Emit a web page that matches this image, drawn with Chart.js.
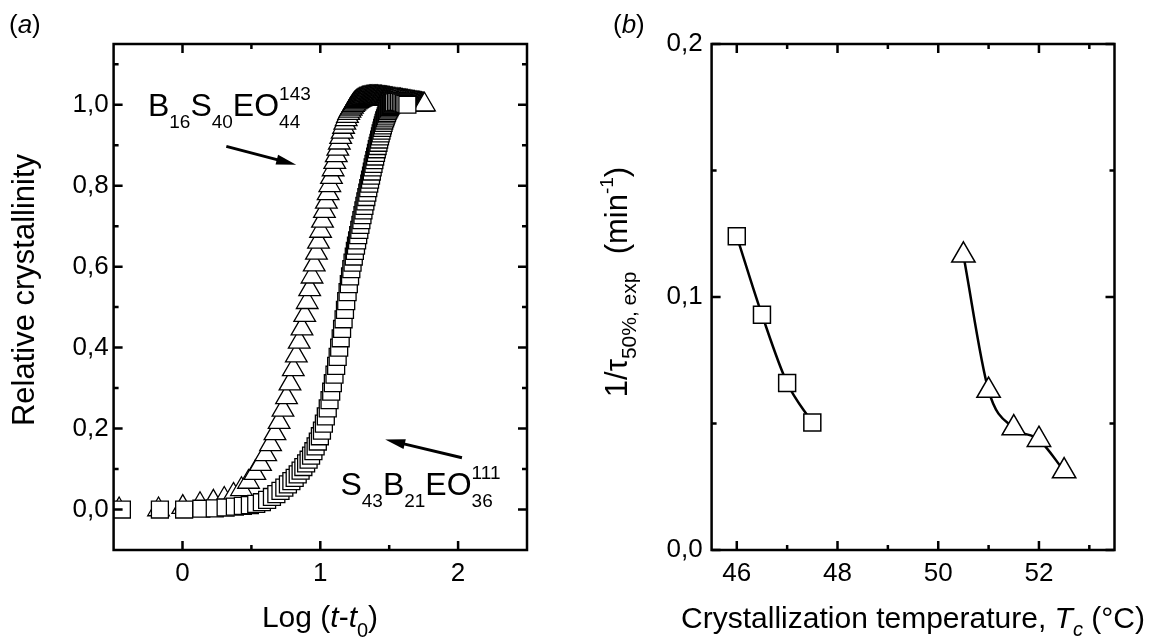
<!DOCTYPE html>
<html>
<head>
<meta charset="utf-8">
<script src="https://cdn.jsdelivr.net/npm/chart.js@4.4.1/dist/chart.umd.min.js"></script>
<style>
  html, body { margin: 0; padding: 0; background: #fff; }
  #wrap { position: relative; width: 1157px; height: 642px; overflow: hidden; }
  #wrap canvas { position: absolute; top: 0; }
</style>
</head>
<body>
<div id="wrap">
  <canvas id="chartA" width="560" height="642" style="left:0;width:560px;height:642px"></canvas>
  <canvas id="chartB" width="597" height="642" style="left:560px;width:597px;height:642px"></canvas>
</div>
<script>
// (a) relative crystallinity vs Log(t - t0)
const sqLogT = [-0.44, -0.164, 0.012, 0.137, 0.234, 0.313, 0.380, 0.438, 0.489, 0.535,
  0.576, 0.614, 0.649, 0.681, 0.711, 0.739, 0.765, 0.790, 0.814, 0.836,
  0.857, 0.877, 0.897, 0.915, 0.933, 0.950, 0.966, 0.982, 0.997, 1.012,
  1.026, 1.040, 1.054, 1.067, 1.079, 1.091, 1.103, 1.115, 1.126, 1.137,
  1.148, 1.158, 1.169, 1.179, 1.188, 1.198, 1.207, 1.216, 1.225, 1.234,
  1.243, 1.251, 1.259, 1.267, 1.275, 1.283, 1.291, 1.298, 1.306, 1.313,
  1.320, 1.327, 1.334, 1.341, 1.348, 1.355, 1.361, 1.368, 1.374, 1.380,
  1.386, 1.392, 1.398, 1.404, 1.410, 1.416, 1.422, 1.427, 1.433, 1.438,
  1.444, 1.449, 1.454, 1.459, 1.464, 1.470, 1.475, 1.480, 1.484, 1.489,
  1.494, 1.499, 1.504, 1.508, 1.513, 1.517, 1.522, 1.526, 1.531, 1.535,
  1.548, 1.560, 1.572, 1.584, 1.596, 1.607, 1.618, 1.632];
const sqCryst = [0.000, 0.000, 0.000, 0.002, 0.003, 0.005, 0.007, 0.009, 0.011, 0.014,
  0.018, 0.024, 0.031, 0.038, 0.046, 0.054, 0.062, 0.070, 0.078, 0.087,
  0.096, 0.105, 0.114, 0.123, 0.133, 0.144, 0.156, 0.168, 0.181, 0.195,
  0.212, 0.230, 0.250, 0.270, 0.291, 0.312, 0.333, 0.355, 0.377, 0.400,
  0.423, 0.446, 0.470, 0.493, 0.515, 0.537, 0.557, 0.576, 0.594, 0.610,
  0.625, 0.639, 0.652, 0.665, 0.678, 0.691, 0.703, 0.715, 0.727, 0.739,
  0.750, 0.761, 0.772, 0.783, 0.794, 0.805, 0.815, 0.825, 0.835, 0.845,
  0.854, 0.863, 0.872, 0.881, 0.890, 0.898, 0.906, 0.914, 0.922, 0.929,
  0.936, 0.943, 0.949, 0.955, 0.961, 0.966, 0.971, 0.976, 0.980, 0.984,
  0.988, 0.991, 0.994, 0.997, 0.999, 1.001, 1.003, 1.004, 1.005, 1.006,
  1.007, 1.007, 1.007, 1.006, 1.005, 1.003, 1.002, 1.000];

const triLogT = [-0.46, -0.174, 0.002, 0.127, 0.224, 0.303, 0.370, 0.428, 0.479, 0.525,
  0.566, 0.604, 0.639, 0.671, 0.701, 0.729, 0.755, 0.780, 0.804, 0.826,
  0.847, 0.867, 0.887, 0.905, 0.923, 0.940, 0.956, 0.972, 0.987, 1.002,
  1.016, 1.030, 1.044, 1.057, 1.069, 1.081, 1.093, 1.105, 1.116, 1.127,
  1.138, 1.148, 1.159, 1.169, 1.178, 1.188, 1.197, 1.206, 1.215, 1.224,
  1.233, 1.241, 1.249, 1.257, 1.265, 1.273, 1.281, 1.288, 1.296, 1.303,
  1.310, 1.317, 1.324, 1.331, 1.338, 1.345, 1.351, 1.358, 1.364, 1.370,
  1.376, 1.382, 1.388, 1.394, 1.400, 1.406, 1.412, 1.417, 1.423, 1.428,
  1.434, 1.439, 1.444, 1.449, 1.454, 1.460, 1.465, 1.470, 1.474, 1.479,
  1.484, 1.489, 1.494, 1.498, 1.503, 1.507, 1.512, 1.516, 1.521, 1.525,
  1.534, 1.542, 1.550, 1.558, 1.566, 1.574, 1.582, 1.590, 1.597, 1.604,
  1.611, 1.618, 1.625, 1.632, 1.639, 1.646, 1.652, 1.659, 1.665, 1.671,
  1.677, 1.683, 1.689, 1.695, 1.701, 1.707, 1.713, 1.718, 1.724, 1.729,
  1.735, 1.740, 1.745, 1.750, 1.756];
const triCryst = [0.000, 0.000, 0.006, 0.013, 0.019, 0.026, 0.036, 0.050, 0.068, 0.090,
  0.112, 0.136, 0.161, 0.188, 0.216, 0.246, 0.277, 0.311, 0.346, 0.380,
  0.414, 0.447, 0.480, 0.512, 0.544, 0.575, 0.605, 0.634, 0.661, 0.688,
  0.713, 0.737, 0.760, 0.781, 0.801, 0.821, 0.840, 0.858, 0.875, 0.891,
  0.906, 0.920, 0.933, 0.945, 0.955, 0.964, 0.972, 0.979, 0.985, 0.990,
  0.995, 0.999, 1.002, 1.005, 1.007, 1.009, 1.011, 1.012, 1.013, 1.014,
  1.015, 1.015, 1.016, 1.016, 1.017, 1.017, 1.017, 1.018, 1.018, 1.018,
  1.018, 1.018, 1.018, 1.018, 1.018, 1.018, 1.018, 1.018, 1.017, 1.017,
  1.017, 1.017, 1.017, 1.016, 1.016, 1.016, 1.016, 1.015, 1.015, 1.015,
  1.015, 1.014, 1.014, 1.014, 1.014, 1.013, 1.013, 1.013, 1.013, 1.012,
  1.012, 1.012, 1.011, 1.011, 1.010, 1.010, 1.010, 1.009, 1.009, 1.008,
  1.008, 1.008, 1.007, 1.007, 1.006, 1.006, 1.006, 1.005, 1.005, 1.004,
  1.004, 1.004, 1.003, 1.003, 1.003, 1.002, 1.002, 1.002, 1.001, 1.001,
  1.001, 1.000, 1.000, 1.000, 1.000];

// (b) 1/tau50% vs crystallization temperature
const sqTc = [46, 46.5, 47, 47.5];
const sqRate = [0.124, 0.093, 0.066, 0.0504];
const triTc = [50.5, 51, 51.5, 52, 52.5];
const triRate = [0.1165, 0.063, 0.0482, 0.0436, 0.0312];

// tick positions
const ticksAx = [0, 1, 2], minorAx = [0.5, 1.5];
const ticksAy = [0, 0.2, 0.4, 0.6, 0.8, 1.0], minorAy = [0.1, 0.3, 0.5, 0.7, 0.9, 1.1];
const ticksBx = [46, 48, 50, 52], minorBx = [47, 49, 51, 53];
const ticksBy = [0, 0.1, 0.2], minorBy = [0.05, 0.15];

const FONT = '"Liberation Sans", Arial, Helvetica, sans-serif';
Chart.defaults.font.family = FONT;
Chart.defaults.color = '#000';

const P = (t, size, o) => Object.assign({ t, size }, o || {});
const comma = v => v.toFixed(1).replace('.', ',');
const pts = (xs, ys) => xs.map((x, i) => ({ x, y: ys[i] }));

function richWidth(ctx, parts) {
  let w = 0, sw = 0;
  for (const p of parts) {
    ctx.font = (p.it ? 'italic ' : '') + p.size + 'px ' + FONT;
    const m = ctx.measureText(p.t).width;
    if (p.stack) sw = m; else { w += Math.max(m, sw); sw = 0; }
  }
  return w;
}

function drawRich(ctx, parts, x, y, rotate, center) {
  ctx.save();
  ctx.translate(x, y);
  if (rotate) ctx.rotate(rotate);
  ctx.fillStyle = '#000';
  ctx.textAlign = 'left';
  ctx.textBaseline = 'alphabetic';
  let cx = center ? -richWidth(ctx, parts) / 2 : 0, sw = 0;
  for (const p of parts) {
    ctx.font = (p.it ? 'italic ' : '') + p.size + 'px ' + FONT;
    ctx.fillText(p.t, cx, p.dy || 0);
    const m = ctx.measureText(p.t).width;
    if (p.stack) sw = m; else { cx += Math.max(m, sw); sw = 0; }
  }
  ctx.restore();
}

function drawArrow(ctx, x0, y0, x1, y1) {
  const a = Math.atan2(y1 - y0, x1 - x0), L = 20, W = 5;
  const bx = x1 - L * Math.cos(a), by = y1 - L * Math.sin(a);
  ctx.save();
  ctx.strokeStyle = '#000';
  ctx.fillStyle = '#000';
  ctx.lineWidth = 3;
  ctx.beginPath();
  ctx.moveTo(x0, y0);
  ctx.lineTo(bx + 3 * Math.cos(a), by + 3 * Math.sin(a));
  ctx.stroke();
  ctx.beginPath();
  ctx.moveTo(x1, y1);
  ctx.lineTo(bx - W * Math.sin(a), by + W * Math.cos(a));
  ctx.lineTo(bx + W * Math.sin(a), by - W * Math.cos(a));
  ctx.closePath();
  ctx.fill();
  ctx.restore();
}

// frame with inward ticks on all four sides
function frameTicks(major, minor) {
  return {
    id: 'frameTicks',
    afterDatasetsDraw(chart) {
      const { ctx, chartArea: c, scales: { x, y } } = chart;
      ctx.save();
      ctx.strokeStyle = '#000';
      ctx.lineWidth = 2.5;
      ctx.strokeRect(c.left, c.top, c.right - c.left, c.bottom - c.top);
      ctx.beginPath();
      const tx = (v, len) => {
        const px = x.getPixelForValue(v);
        ctx.moveTo(px, c.bottom); ctx.lineTo(px, c.bottom - len);
        ctx.moveTo(px, c.top); ctx.lineTo(px, c.top + len);
      };
      const ty = (v, len) => {
        const py = y.getPixelForValue(v);
        ctx.moveTo(c.left, py); ctx.lineTo(c.left + len, py);
        ctx.moveTo(c.right, py); ctx.lineTo(c.right - len, py);
      };
      major.x.forEach(v => tx(v, 9));
      minor.x.forEach(v => tx(v, 5));
      major.y.forEach(v => ty(v, 9));
      minor.y.forEach(v => ty(v, 5));
      ctx.stroke();
      ctx.restore();
    }
  };
}

function texts(items) {
  return {
    id: 'texts',
    afterDraw(chart) {
      const ctx = chart.ctx, { x, y } = chart.scales;
      for (const it of items) {
        if (it.arrow) {
          drawArrow(ctx, x.getPixelForValue(it.arrow[0]), y.getPixelForValue(it.arrow[1]),
            x.getPixelForValue(it.arrow[2]), y.getPixelForValue(it.arrow[3]));
        } else if (it.data) {
          drawRich(ctx, it.parts, x.getPixelForValue(it.data[0]), y.getPixelForValue(it.data[1]));
        } else {
          drawRich(ctx, it.parts, it.px, it.py, it.rotate, it.center);
        }
      }
    }
  };
}

function markerSet(data, style, r, bw, line) {
  return {
    data,
    pointStyle: style,
    pointRadius: r,
    pointHoverRadius: r,
    pointBorderWidth: bw,
    pointBorderColor: '#000',
    pointBackgroundColor: '#fff',
    borderColor: '#000',
    borderWidth: 2.5,
    showLine: !!line,
    cubicInterpolationMode: 'monotone'
  };
}

function axis(min, max, vals, fmt, fit, isX, pad) {
  return {
    type: 'linear', min, max,
    grid: { display: false, drawTicks: false },
    border: { display: false },
    afterBuildTicks: s => { s.ticks = vals.map(v => ({ value: v })); },
    afterFit: s => { if (isX) s.height = fit; else s.width = fit; },
    ticks: { font: { size: 26 }, padding: pad, callback: fmt, autoSkip: false, maxRotation: 0 }
  };
}

const SUB = 12, SUP = -16;

new Chart(document.getElementById('chartA'), {
  type: 'scatter',
  data: {
    datasets: [
      markerSet(pts(sqLogT, sqCryst), 'rect', 12, 1.3, false),
      markerSet(pts(triLogT, triCryst), 'triangle', 12.5, 1.3, false)
    ]
  },
  options: {
    responsive: false,
    animation: false,
    events: [],
    layout: { padding: { left: 0, top: 44, right: 33, bottom: 0 } },
    plugins: { legend: { display: false }, tooltip: { enabled: false } },
    scales: {
      x: axis(-0.5, 2.5, ticksAx, v => String(v), 92, true, 8),
      y: axis(-0.1, 1.15, ticksAy, comma, 113.6, false, 5)
    }
  },
  plugins: [
    frameTicks({ x: ticksAx, y: ticksAy }, { x: minorAx, y: minorAy }),
    texts([
      { parts: [P('(', 26), P('a', 26, { it: true }), P(')', 26)], px: 9, py: 33 },
      { parts: [P('Log (', 30), P('t', 30, { it: true }), P('-', 30), P('t', 30, { it: true }),
                P('0', 20, { dy: 10 }), P(')', 30)], px: 320, py: 627, center: true },
      { parts: [P('Relative crystallinity', 31)], px: 34, py: 290, rotate: -Math.PI / 2, center: true },
      { parts: [P('B', 32), P('16', 19, { dy: SUB }), P('S', 32), P('40', 19, { dy: SUB }), P('EO', 32),
                P('143', 19, { dy: SUP, stack: true }), P('44', 19, { dy: SUB })], data: [-0.251, 0.971] },
      { parts: [P('S', 32), P('43', 19, { dy: SUB }), P('B', 32), P('21', 19, { dy: SUB }), P('EO', 32),
                P('111', 19, { dy: SUP, stack: true }), P('36', 19, { dy: SUB })], data: [1.146, 0.037] },
      { arrow: [0.318, 0.897, 0.825, 0.852] },
      { arrow: [2.028, 0.128, 1.471, 0.173] }
    ])
  ]
});

new Chart(document.getElementById('chartB'), {
  type: 'scatter',
  data: {
    datasets: [
      markerSet(pts(sqTc, sqRate), 'rect', 12, 1.5, true),
      markerSet(pts(triTc, triRate), 'triangle', 13.5, 1.5, true)
    ]
  },
  options: {
    responsive: false,
    animation: false,
    events: [],
    layout: { padding: { left: 0, top: 44, right: 42.5, bottom: 0 } },
    plugins: { legend: { display: false }, tooltip: { enabled: false } },
    scales: {
      x: axis(45.5, 53.5, ticksBx, v => String(v), 92, true, 8),
      y: axis(0, 0.2, ticksBy, comma, 151.6, false, 9)
    }
  },
  plugins: [
    frameTicks({ x: ticksBx, y: ticksBy }, { x: minorBx, y: minorBy }),
    texts([
      { parts: [P('(', 26), P('b', 26, { it: true }), P(')', 26)], px: 53, py: 33 },
      { parts: [P('Crystallization temperature, ', 30), P('T', 30, { it: true }),
                P('c', 20, { it: true, dy: 8 }), P(' (°C)', 30)], px: 353, py: 628, center: true },
      { parts: [P('1/τ', 31), P('50%, exp', 21, { dy: 9 }), P('  (min', 31),
                P('-1', 19, { dy: -14 }), P(')', 31)], px: 67, py: 282, rotate: -Math.PI / 2, center: true }
    ])
  ]
});
</script>
</body>
</html>
